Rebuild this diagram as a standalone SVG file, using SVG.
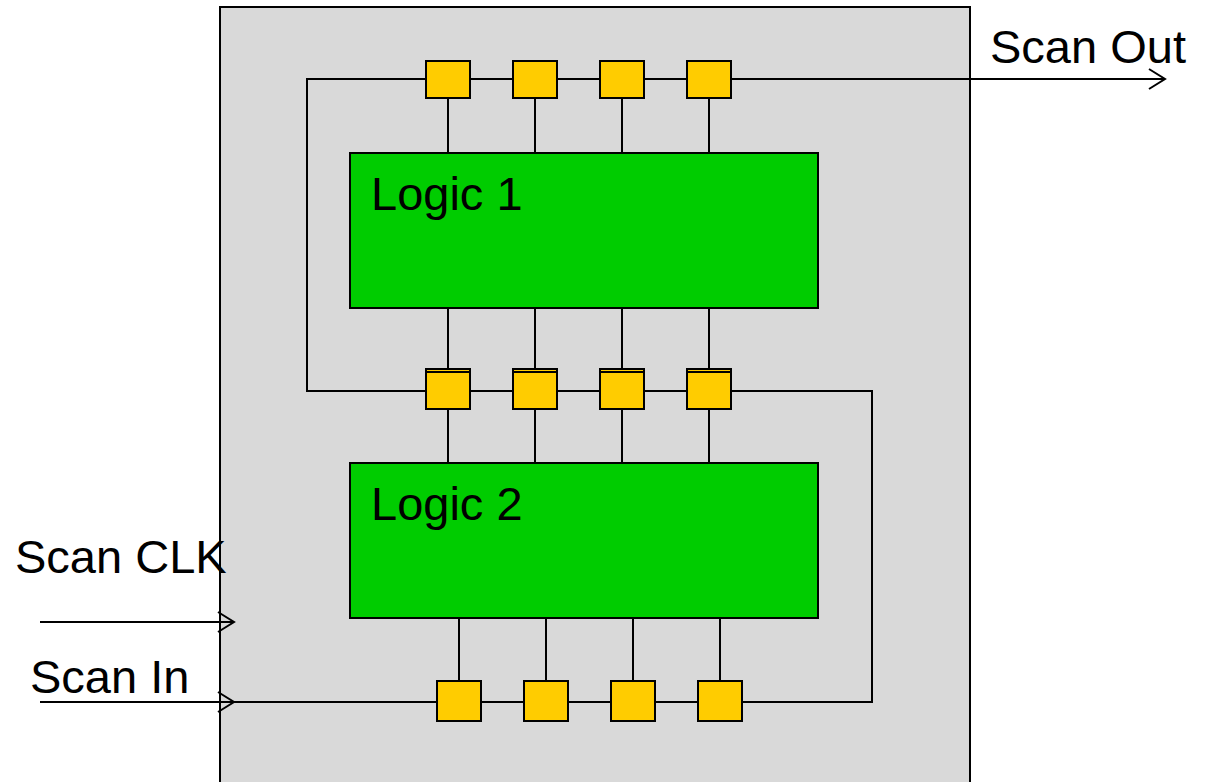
<svg xmlns="http://www.w3.org/2000/svg" width="1207" height="782" viewBox="0 0 1207 782">
<defs>
<style>
.t{font-family:"Liberation Sans",Arial,sans-serif;font-size:47px;fill:#000}
.ff{fill:#FFCC00;stroke:#000;stroke-width:2}
.lg{fill:#00CC00;stroke:#000;stroke-width:2}
.w{fill:none;stroke:#000;stroke-width:2}
</style>
<marker id="ah" markerWidth="20" markerHeight="24" refX="17" refY="12" orient="auto" markerUnits="userSpaceOnUse">
<path d="M1,2 L17,12 L1,22" fill="none" stroke="#000" stroke-width="2"/>
</marker>
</defs>
<rect id="chip" x="220" y="7" width="750" height="790" fill="#D9D9D9" stroke="#000" stroke-width="2"/>
<g id="connectors" class="w">
<path d="M426,79 H307 V391 H426"/>
<path d="M470,79 H513 M557,79 H600 M644,79 H687"/>
<path d="M731,79 H1165" marker-end="url(#ah)"/>
<path d="M470,391 H513 M557,391 H600 M644,391 H687"/>
<path d="M731,391 H872 V702 H742"/>
<path d="M698,702 H655 M611,702 H568 M524,702 H481"/>
<path d="M40,702 H234" marker-end="url(#ah)"/>
<path d="M234,702 H437"/>
<path d="M40,622 H234" marker-end="url(#ah)"/>
<path d="M448,98 V153 M535,98 V153 M622,98 V153 M709,98 V153"/>
<path d="M448,308 V369 M535,308 V369 M622,308 V369 M709,308 V369"/>
<path d="M448,409 V463 M535,409 V463 M622,409 V463 M709,409 V463"/>
<path d="M459,618 V681 M546,618 V681 M633,618 V681 M720,618 V681"/>
</g>
<g id="logic1"><rect class="lg" x="350" y="153" width="468" height="155"/><text class="t" x="371" y="210">Logic 1</text></g>
<g id="logic2"><rect class="lg" x="350" y="463" width="468" height="155"/><text class="t" x="371" y="520">Logic 2</text></g>
<g id="ff-top-1"><rect class="ff" x="426" y="61" width="44" height="37"/></g>
<g id="ff-top-2"><rect class="ff" x="513" y="61" width="44" height="37"/></g>
<g id="ff-top-3"><rect class="ff" x="600" y="61" width="44" height="37"/></g>
<g id="ff-top-4"><rect class="ff" x="687" y="61" width="44" height="37"/></g>
<g id="ff-mid-1"><rect class="ff" x="426" y="369" width="44" height="37"/><rect class="ff" x="426" y="372" width="44" height="37"/></g>
<g id="ff-mid-2"><rect class="ff" x="513" y="369" width="44" height="37"/><rect class="ff" x="513" y="372" width="44" height="37"/></g>
<g id="ff-mid-3"><rect class="ff" x="600" y="369" width="44" height="37"/><rect class="ff" x="600" y="372" width="44" height="37"/></g>
<g id="ff-mid-4"><rect class="ff" x="687" y="369" width="44" height="37"/><rect class="ff" x="687" y="372" width="44" height="37"/></g>
<g id="ff-bot-1"><rect class="ff" x="437" y="681" width="44" height="40"/></g>
<g id="ff-bot-2"><rect class="ff" x="524" y="681" width="44" height="40"/></g>
<g id="ff-bot-3"><rect class="ff" x="611" y="681" width="44" height="40"/></g>
<g id="ff-bot-4"><rect class="ff" x="698" y="681" width="44" height="40"/></g>
<g id="labels">
<text class="t" x="990" y="63">Scan Out</text>
<text class="t" x="15" y="573">Scan CLK</text>
<text class="t" x="30" y="693">Scan In</text>
</g>
</svg>
